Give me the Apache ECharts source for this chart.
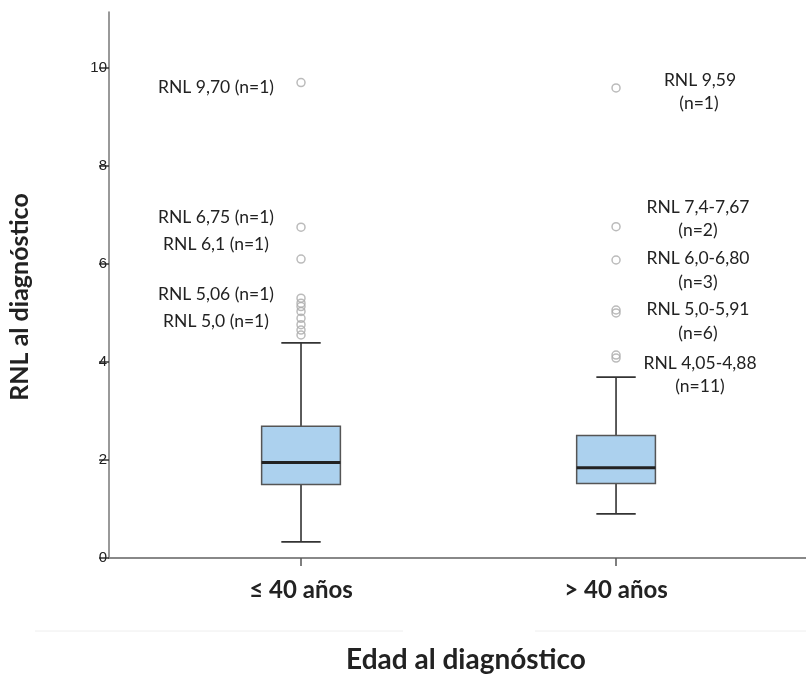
<!DOCTYPE html>
<html>
<head>
<meta charset="utf-8">
<title>RNL al diagnóstico por edad</title>
<script src="https://cdn.jsdelivr.net/npm/echarts@6/dist/echarts.min.js"></script>
<style>
  html, body { margin: 0; padding: 0; background: #fff; }
  #chart { width: 806px; height: 679px; }
</style>
</head>
<body>
<div id="chart"></div>
<script>
// Age groups on the horizontal axis (positions 1 and 2)
const groups = ['≤ 40 años', '> 40 años'];
const groupPos = [1, 2];

// Five-number summaries per group: [lower whisker, Q1, median, Q3, upper whisker]
const summaryYoung = [0.33, 1.50, 1.95, 2.69, 4.39];
const summaryOld = [0.90, 1.52, 1.84, 2.50, 3.69];

// Outlying values per group
const outliersYoung = [9.70, 6.75, 6.10, 5.30, 5.20, 5.13, 5.03, 4.89, 4.76, 4.65, 4.55];
const outliersOld = [9.59, 6.76, 6.08, 5.06, 5.00, 4.14, 4.08];

// Y tick values
const yTicks = [0, 2, 4, 6, 8, 10];

const boxData = [
  [groupPos[0]].concat(summaryYoung),
  [groupPos[1]].concat(summaryOld)
];
const outlierData = outliersYoung.map(v => [groupPos[0], v])
  .concat(outliersOld.map(v => [groupPos[1], v]));

function renderBox(params, api) {
  const x = api.value(0);
  const lo = api.coord([x, api.value(1)]);
  const q1 = api.coord([x, api.value(2)]);
  const md = api.coord([x, api.value(3)]);
  const q3 = api.coord([x, api.value(4)]);
  const hi = api.coord([x, api.value(5)]);
  const halfW = api.size([0.25, 0])[0] / 2;
  const capHalf = api.size([0.125, 0])[0] / 2;
  const cx = lo[0];
  const whisker = { stroke: '#333', lineWidth: 1.6 };
  return {
    type: 'group',
    children: [
      { type: 'line', shape: { x1: cx, y1: q3[1], x2: cx, y2: hi[1] }, style: whisker },
      { type: 'line', shape: { x1: cx, y1: q1[1], x2: cx, y2: lo[1] }, style: whisker },
      { type: 'line', shape: { x1: cx - capHalf, y1: hi[1], x2: cx + capHalf, y2: hi[1] }, style: whisker },
      { type: 'line', shape: { x1: cx - capHalf, y1: lo[1], x2: cx + capHalf, y2: lo[1] }, style: whisker },
      {
        type: 'rect',
        shape: { x: cx - halfW, y: q3[1], width: halfW * 2, height: q1[1] - q3[1] },
        style: { fill: '#acd1ee', stroke: '#555', lineWidth: 1.5 }
      },
      {
        type: 'line',
        shape: { x1: cx - halfW, y1: md[1], x2: cx + halfW, y2: md[1] },
        style: { stroke: '#222', lineWidth: 3 }
      }
    ]
  };
}

const noteFont = { fontFamily: 'Lato', fontSize: 17.5, fill: '#222', textAlign: 'center', textVerticalAlign: 'middle' };
function note(text, x, y) {
  return { type: 'text', x: x, y: y, style: Object.assign({ text: text }, noteFont) };
}

const chart = echarts.init(document.getElementById('chart'));
chart.setOption({
  animation: false,
  backgroundColor: '#fff',
  grid: { left: 109, right: 0, top: 12, bottom: 121, containLabel: false, outerBoundsMode: 'none' },
  xAxis: {
    type: 'value',
    min: 0.3905,
    max: 2.603,
    splitLine: { show: false },
    axisLine: { show: true, lineStyle: { color: '#888', width: 2 } },
    axisTick: { show: true, customValues: groupPos, length: 8, lineStyle: { color: '#555', width: 1.5 } },
    axisLabel: {
      customValues: groupPos,
      formatter: v => groups[groupPos.indexOf(v)] || '',
      margin: 20,
      fontFamily: 'Lato',
      fontWeight: 'bold',
      fontSize: 24,
      color: '#222'
    }
  },
  yAxis: {
    type: 'value',
    min: 0,
    max: 11.14,
    interval: 2,
    splitLine: { show: false },
    axisLine: { show: true, lineStyle: { color: '#777', width: 1.5 } },
    axisTick: { show: true, customValues: yTicks, length: 10, lineStyle: { color: '#333', width: 1.5 } },
    axisLabel: {
      show: true,
      showMaxLabel: false,
      formatter: v => (yTicks.indexOf(v) >= 0 ? String(v) : ''),
      margin: 2,
      fontFamily: 'Liberation Sans',
      fontSize: 15,
      color: '#222'
    }
  },
  series: [
    {
      name: 'RNL',
      type: 'custom',
      renderItem: renderBox,
      data: boxData,
      encode: { x: 0, y: [1, 2, 3, 4, 5] },
      z: 2
    },
    {
      name: 'Valores atípicos',
      type: 'scatter',
      data: outlierData,
      symbol: 'circle',
      symbolSize: 8,
      itemStyle: { color: 'rgba(0,0,0,0)', borderColor: '#aaa', borderWidth: 1.5 },
      z: 3
    }
  ],
  graphic: [
    { type: 'line', shape: { x1: 35, y1: 631, x2: 403, y2: 631 }, style: { stroke: '#eeeeee', lineWidth: 1 } },
    { type: 'line', shape: { x1: 535, y1: 631, x2: 806, y2: 631 }, style: { stroke: '#eeeeee', lineWidth: 1 } },
    {
      type: 'text', x: 20, y: 297, rotation: Math.PI / 2,
      style: { text: 'RNL al diagnóstico', fontFamily: 'Lato', fontWeight: 'bold', fontSize: 25, fill: '#222', textAlign: 'center', textVerticalAlign: 'middle' }
    },
    {
      type: 'text', x: 466, y: 660,
      style: { text: 'Edad al diagnóstico', fontFamily: 'Lato', fontWeight: 'bold', fontSize: 28, fill: '#222', textAlign: 'center', textVerticalAlign: 'middle' }
    },
    note('RNL 9,70 (n=1)', 216, 87),
    note('RNL 6,75 (n=1)', 216, 217),
    note('RNL 6,1 (n=1)', 216, 244),
    note('RNL 5,06 (n=1)', 216, 294),
    note('RNL 5,0 (n=1)', 216, 321),
    note('RNL 9,59', 700, 80),
    note('(n=1)', 699, 103),
    note('RNL 7,4-7,67', 698, 207),
    note('(n=2)', 698, 230),
    note('RNL 6,0-6,80', 698, 258),
    note('(n=3)', 698, 282),
    note('RNL 5,0-5,91', 698, 309),
    note('(n=6)', 698, 333),
    note('RNL 4,05-4,88', 700, 363),
    note('(n=11)', 700, 386)
  ]
});
</script>
</body>
</html>
